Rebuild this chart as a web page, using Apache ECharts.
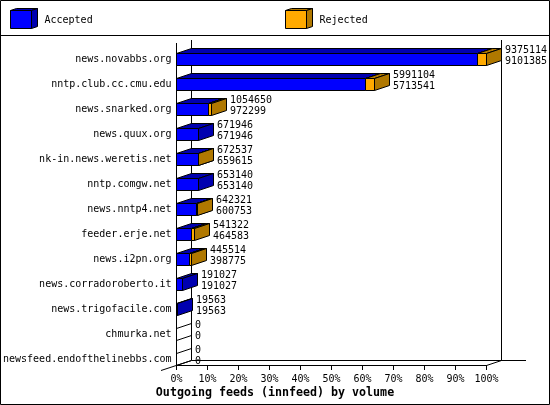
<!DOCTYPE html>
<html><head><meta charset="utf-8">
<style>html,body{margin:0;padding:0;background:#fff}#c{width:550px;height:405px}</style>
<script src="https://cdn.jsdelivr.net/npm/echarts@6/dist/echarts.min.js"></script>
</head><body><div id="c"></div>
<script>
const categories = ['news.novabbs.org','nntp.club.cc.cmu.edu','news.snarked.org','news.quux.org','nk-in.news.weretis.net','nntp.comgw.net','news.nntp4.net','feeder.erje.net','news.i2pn.org','news.corradoroberto.it','news.trigofacile.com','chmurka.net','newsfeed.endofthelinebbs.com'];
const offered  = [9375114,5991104,1054650,671946,672537,653140,642321,541322,445514,191027,19563,0,0];
const accepted = [9101385,5713541,972299,671946,659615,653140,600753,464583,398775,191027,19563,0,0];
const tickLabels = ['0%','10%','20%','30%','40%','50%','60%','70%','80%','90%','100%'];
const legendNames = ['Accepted','Rejected'];
const axisTitle = 'Outgoing feeds (innfeed) by volume';
const colors = {blue:'#0000ff',blueDark:'#0000b0',orange:'#ffaa00',orangeDark:'#b07800'};
const total = Math.max(...offered);
const pctA = accepted.map(v=>v/total*100);
const pctO = offered.map(v=>v/total*100);
const DX=15, DY=5, H=12;
const FONT='"DejaVu Sans Mono"';
const chart = echarts.init(document.getElementById('c'),null,{renderer:'canvas'});
const snap=v=>Math.round(v)+0.5;
function box(x0,x1,yc,front,top,side,filled){
  const yt=yc-H/2, yb=yc+H/2, st={stroke:'#000',lineWidth:1};
  if(!filled){
    return [
      {type:'line',shape:{x1:x0,y1:yt,x2:x0+DX,y2:yt-DY},style:st},
      {type:'line',shape:{x1:x0,y1:yb,x2:x0+DX,y2:yb-DY},style:st}
    ];
  }
  return [
    {type:'polygon',shape:{points:[[x0,yt],[x0+DX,yt-DY],[x1+DX,yt-DY],[x1,yt]]},style:{fill:top,...st}},
    {type:'polygon',shape:{points:[[x1,yt],[x1+DX,yt-DY],[x1+DX,yb-DY],[x1,yb]]},style:{fill:side,...st}},
    {type:'polygon',shape:{points:[[x0,yt],[x1,yt],[x1,yb],[x0,yb]]},style:{fill:front,...st}}
  ];
}
const txt=(x,y,t,opt)=>({type:'text',x,y,style:{text:t,fill:'#000',font:'10px '+FONT,verticalAlign:'middle',...(opt||{})}});
const line=(x1,y1,x2,y2)=>({type:'line',shape:{x1,y1,x2,y2},style:{stroke:'#000',lineWidth:1}});
const icon=(x,fr,tp,sd)=>({type:'group',children:[
  {type:'polygon',shape:{points:[[x,10.5],[x+6,8.5],[x+27,8.5],[x+21,10.5]]},style:{fill:tp,stroke:'#000',lineWidth:1}},
  {type:'polygon',shape:{points:[[x+21,10.5],[x+27,8.5],[x+27,26.5],[x+21,28.5]]},style:{fill:sd,stroke:'#000',lineWidth:1}},
  {type:'rect',shape:{x,y:10.5,width:21,height:18},style:{fill:fr,stroke:'#000',lineWidth:1}}
]});
chart.setOption({
  animation:false,
  backgroundColor:'#fff',
  grid:{left:176.5,right:63.5,top:46.5,height:325,containLabel:false},
  xAxis:{type:'value',min:0,max:100,interval:10,offset:-6.5,
    axisLine:{show:true,lineStyle:{color:'#000',width:1}},
    axisTick:{show:true,length:5,lineStyle:{color:'#000'}},
    splitLine:{show:false},
    axisLabel:{color:'#000',fontFamily:FONT,fontSize:10,margin:9,hideOverlap:false,showMinLabel:true,showMaxLabel:true,
      formatter:(v)=>tickLabels[Math.round(v/10)]}},
  yAxis:{type:'category',inverse:true,data:categories,
    axisLine:{show:false},axisTick:{show:false},
    axisLabel:{color:'#000',fontFamily:FONT,fontSize:10,margin:5,interval:0,padding:[2,0,0,0]}},
  graphic:[
    {type:'rect',silent:true,z:-1,shape:{x:0.5,y:0.5,width:549,height:404},style:{fill:'none',stroke:'#000',lineWidth:1}},
    line(0,35.5,550,35.5),
    line(176.5,43,176.5,365.5),
    line(191.5,40,191.5,360.5),
    line(501.5,40,501.5,360.5),
    line(191.5,360.5,526,360.5),
    line(161,370.5,191.5,360.5),
    line(486.5,365.5,501.5,360.5),
    icon(10.5,colors.blue,colors.blueDark,colors.blueDark),
    icon(285.5,colors.orange,colors.orangeDark,colors.orangeDark),
    txt(44.5,20,legendNames[0]),
    txt(319.5,20,legendNames[1]),
    txt(275,392.5,axisTitle,{font:'bold 11.65px '+FONT,align:'center'})
  ],
  series:[
    {name:'Accepted',type:'custom',coordinateSystem:'cartesian2d',z:3,clip:false,
      encode:{x:0,y:1},
      data:pctA.map((v,i)=>[v,i]),
      renderItem(p,api){
        const i=api.value(1), xs=api.coord([0,i]), xe=api.coord([api.value(0),i]);
        return {type:'group',children:box(snap(xs[0]-0.5),snap(xe[0]-0.5),xs[1]+0.5,colors.blue,colors.blueDark,colors.blueDark,api.value(0)>0)};
      }},
    {name:'Rejected',type:'custom',coordinateSystem:'cartesian2d',z:4,clip:false,
      encode:{x:[0,1],y:2},
      data:pctA.map((v,i)=>[v,pctO[i],i]),
      renderItem(p,api){
        const i=api.value(2), xa=api.coord([api.value(0),i]), xo=api.coord([api.value(1),i]);
        const yc=xa[1], ch=[];
        const x0=snap(xa[0]-0.5), x1=snap(xo[0]-0.5);
        if(api.value(1)>api.value(0)) ch.push(...box(x0,x1,yc+0.5,colors.orange,colors.orangeDark,colors.orangeDark,true));
        ch.push(txt(x1+DX+3.5,yc-8.5,String(offered[i])));
        ch.push(txt(x1+DX+3.5,yc+2.5,String(accepted[i])));
        return {type:'group',children:ch};
      }}
  ]
});
</script></body></html>
